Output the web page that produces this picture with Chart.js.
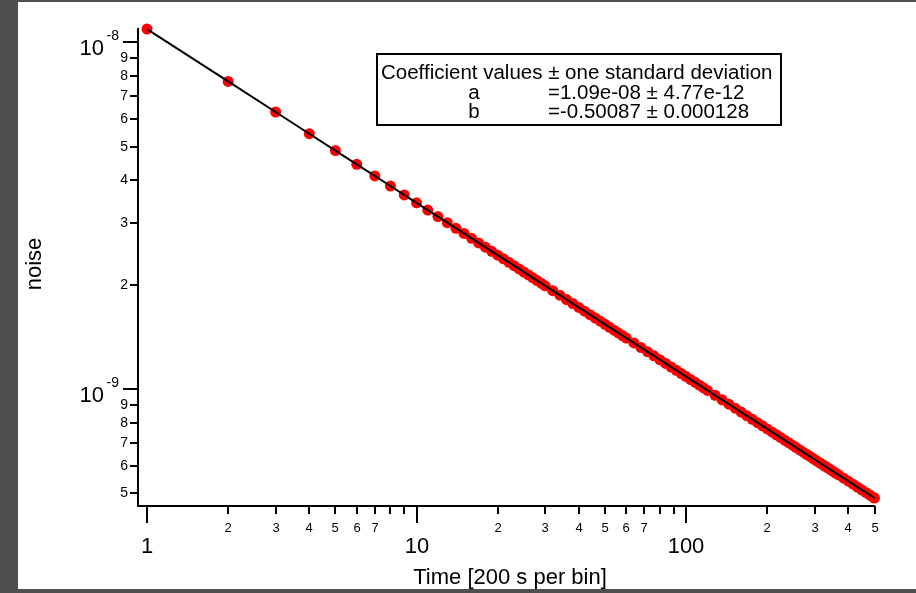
<!DOCTYPE html>
<html>
<head>
<meta charset="utf-8">
<title>noise vs time</title>
<script src="https://cdn.jsdelivr.net/npm/chart.js@4.4.1/dist/chart.umd.min.js"></script>
<style>
  html, body { margin: 0; padding: 0; width: 916px; height: 593px; overflow: hidden; background: #4e4e4e; }
  #panel { position: absolute; left: 18px; top: 2px; width: 898px; height: 587px; background: #ffffff; }
</style>
</head>
<body>
<div id="panel"><canvas id="noiseChart" width="898" height="587"></canvas></div>
<script>
// bin index (200 s per bin)
const binTimes = [
  1, 2, 3, 4, 5, 6, 7, 8, 9, 10,
  11, 12, 13, 14, 15, 16, 17, 18, 19, 20,
  21, 22, 23, 24, 25, 26, 27, 28, 29, 30,
  32, 34, 36, 38, 40, 42, 44, 46, 48, 50,
  52, 54, 56, 58, 60, 64, 68, 72, 76, 80,
  84, 88, 92, 96, 100, 104, 108, 112, 116, 120,
  128, 136, 144, 152, 160, 168, 176, 184, 192, 200,
  208, 216, 224, 232, 240, 248, 256, 264, 272, 280,
  288, 296, 304, 312, 320, 328, 336, 344, 352, 360,
  368, 384, 400, 416, 432, 448, 464, 480, 496, 500
];

// noise, in units of 1e-9
const noiseNano = [
  10.9, 7.703, 6.287, 5.443, 4.868, 4.443, 4.113, 3.847, 3.626, 3.440,
  3.280, 3.140, 3.016, 2.906, 2.808, 2.718, 2.637, 2.563, 2.494, 2.431,
  2.372, 2.318, 2.267, 2.219, 2.174, 2.132, 2.092, 2.054, 2.018, 1.984,
  1.921, 1.864, 1.811, 1.763, 1.718, 1.676, 1.638, 1.602, 1.568, 1.536,
  1.506, 1.478, 1.452, 1.426, 1.402, 1.358, 1.317, 1.280, 1.246, 1.214,
  1.185, 1.157, 1.132, 1.108, 1.086, 1.065, 1.045, 1.026, 1.008, 0.9909,
  0.9594, 0.9307, 0.9044, 0.8802, 0.8579, 0.8372, 0.8179, 0.7999, 0.7830, 0.7672,
  0.7523, 0.7382, 0.7249, 0.7122, 0.7002, 0.6888, 0.6780, 0.6676, 0.6577, 0.6482,
  0.6391, 0.6304, 0.6221, 0.6140, 0.6063, 0.5988, 0.5916, 0.5847, 0.5780, 0.5715,
  0.5653, 0.5534, 0.5422, 0.5316, 0.5217, 0.5122, 0.5033, 0.4948, 0.4868, 0.4849
];

// axis ticks
const xMajorTicks = [1, 10, 100];
const xMajorLabels = ['1', '10', '100'];
const xMinorTicks = [2, 3, 4, 5, 6, 7, 8, 9, 20, 30, 40, 50, 60, 70, 80, 90, 200, 300, 400, 500];
const xMinorLabels = ['2', '3', '4', '5', '6', '7', '', '', '2', '3', '4', '5', '6', '7', '', '', '2', '3', '4', '5'];
const yMajorTicks = [1e-9, 1e-8];
const yMajorExponents = ['-9', '-8'];
const yMinorTicks = [5e-10, 6e-10, 7e-10, 8e-10, 9e-10, 2e-9, 3e-9, 4e-9, 5e-9, 6e-9, 7e-9, 8e-9, 9e-9];
const yMinorLabels = ['5', '6', '7', '8', '9', '2', '3', '4', '5', '6', '7', '8', '9'];

// fit results
const fitHeader = 'Coefficient values \u00b1 one standard deviation';
const fitNames = ['a', 'b'];
const fitValues = ['=1.09e-08 \u00b1 4.77e-12', '=-0.50087 \u00b1 0.000128'];

const FONT = "'Liberation Sans', Arial, sans-serif";

const points = binTimes.map((t, i) => ({ x: t, y: noiseNano[i] * 1e-9 }));

// Igor-style axes, tick labels and fit box
const igorAxes = {
    id: 'igorAxes',
    afterDraw(chart) {
        const ctx = chart.ctx;
        const area = chart.chartArea;
        const xs = chart.scales.x;
        const ys = chart.scales.y;
        ctx.save();
        ctx.strokeStyle = '#000';
        ctx.fillStyle = '#000';
        ctx.lineWidth = 2;

        // axis lines
        ctx.beginPath();
        ctx.moveTo(area.left, area.top);
        ctx.lineTo(area.left, area.bottom);
        ctx.lineTo(area.right, area.bottom);
        ctx.stroke();

        // x ticks
        ctx.textAlign = 'center';
        ctx.textBaseline = 'middle';
        ctx.font = '13px ' + FONT;
        xMinorTicks.forEach((v, i) => {
            const px = Math.round(xs.getPixelForValue(v));
            ctx.beginPath();
            ctx.moveTo(px, area.bottom);
            ctx.lineTo(px, area.bottom + 8);
            ctx.stroke();
            if (xMinorLabels[i]) ctx.fillText(xMinorLabels[i], px, area.bottom + 22);
        });
        ctx.font = '22px ' + FONT;
        xMajorTicks.forEach((v, i) => {
            const px = Math.round(xs.getPixelForValue(v));
            ctx.beginPath();
            ctx.moveTo(px, area.bottom);
            ctx.lineTo(px, area.bottom + 17);
            ctx.stroke();
            ctx.fillText(xMajorLabels[i], px, area.bottom + 41);
        });

        // y ticks
        ctx.textAlign = 'right';
        ctx.font = '14px ' + FONT;
        yMinorTicks.forEach((v, i) => {
            const py = Math.round(ys.getPixelForValue(v));
            ctx.beginPath();
            ctx.moveTo(area.left, py);
            ctx.lineTo(area.left - 8, py);
            ctx.stroke();
            ctx.fillText(yMinorLabels[i], area.left - 10, py);
        });
        yMajorTicks.forEach((v, i) => {
            const py = Math.round(ys.getPixelForValue(v));
            ctx.beginPath();
            ctx.moveTo(area.left, py);
            ctx.lineTo(area.left - 15, py);
            ctx.stroke();
            ctx.font = '22px ' + FONT;
            ctx.fillText('10', area.left - 34, py + 7);
            ctx.font = '14px ' + FONT;
            ctx.fillText(yMajorExponents[i], area.left - 19, py - 6);
        });

        // axis titles
        ctx.textAlign = 'center';
        ctx.textBaseline = 'alphabetic';
        ctx.font = '22px ' + FONT;
        ctx.fillText('Time [200 s per bin]', 492, 582);
        ctx.save();
        ctx.translate(17, 262);
        ctx.rotate(-Math.PI / 2);
        ctx.textBaseline = 'middle';
        ctx.fillText('noise', 0, 0);
        ctx.restore();

        // fit coefficients box
        ctx.lineWidth = 2;
        ctx.strokeRect(359, 52, 404, 71);
        ctx.textBaseline = 'middle';
        ctx.textAlign = 'left';
        ctx.font = '20.5px ' + FONT;
        ctx.fillText(fitHeader, 363, 71);
        fitNames.forEach((name, i) => {
            const rowY = 91 + i * 19;
            ctx.textAlign = 'center';
            ctx.fillText(name, 456, rowY);
            ctx.textAlign = 'left';
            ctx.fillText(fitValues[i], 530, rowY);
        });
        ctx.restore();
    }
};

const chart = new Chart(document.getElementById('noiseChart').getContext('2d'), {
    type: 'scatter',
    data: {
        datasets: [{
            label: 'fit',
            data: points,
            showLine: true,
            borderColor: '#000000',
            borderWidth: 2,
            pointRadius: 0,
            clip: false,
            order: 0
        }, {
            label: 'noise',
            data: points,
            showLine: false,
            pointRadius: 5.5,
            pointBorderWidth: 0,
            backgroundColor: '#ff0000',
            borderColor: '#ff0000',
            clip: false,
            order: 1
        }]
    },
    options: {
        responsive: false,
        animation: false,
        devicePixelRatio: 1,
        layout: { padding: { left: 120, right: 41, top: 26, bottom: 83 } },
        scales: {
            x: { type: 'logarithmic', min: 0.926, max: 502, display: false },
            y: { type: 'logarithmic', min: 4.6e-10, max: 1.098e-8, display: false }
        },
        plugins: {
            legend: { display: false },
            tooltip: { enabled: false }
        }
    },
    plugins: [igorAxes]
});
</script>
</body>
</html>
